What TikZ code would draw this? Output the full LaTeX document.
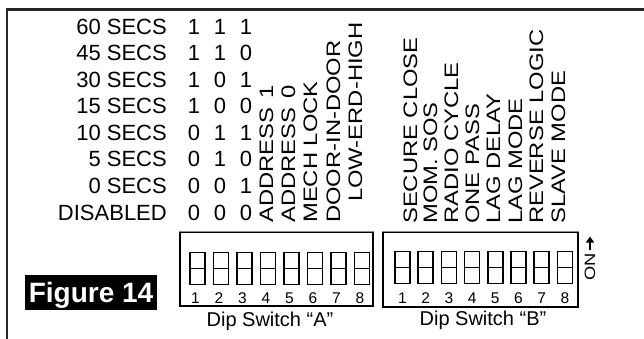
\documentclass[tikz,border=0pt]{standalone}
\usepackage{fontspec}
\setmainfont{Liberation Sans}
\newfontfamily\widefont[FakeStretch=1.22]{Liberation Sans}
\usetikzlibrary{arrows.meta,positioning}

\begin{document}
\begin{tikzpicture}[x=1pt,y=-1pt]
	\tikzset{every node/.style={inner sep=0pt}}
	\tikzset{rowlab/.style={anchor=base east,font=\fontsize{22}{22}\selectfont}}
	\tikzset{bit/.style={anchor=base,font=\fontsize{22}{22}\selectfont}}
	\tikzset{vlab/.style={rotate=90,anchor=base west,font=\widefont\fontsize{19.5}{19.5}\selectfont}}
	\tikzset{dipbox/.style={draw,line width=1.5pt,minimum width=193pt,minimum height=74pt}}
	\tikzset{toggle/.style={draw,line width=1.7pt,minimum width=15pt,minimum height=32pt}}
	\tikzset{swnum/.style={anchor=base,font=\fontsize{15.5}{15.5}\selectfont}}
	\tikzset{diplab/.style={anchor=base,font=\fontsize{20}{20}\selectfont}}
	\useasboundingbox (0,0) rectangle (644,339);
	% frame
	\draw[line width=2.3pt,black!85] (7.2,339) -- (7.2,9.5) -- (644,9.5);
	% close timer table
	\foreach \lab/\a/\b/\c [count=\i from 0] in {60 SECS/1/1/1,45 SECS/1/1/0,30 SECS/1/0/1,15 SECS/1/0/0,10 SECS/0/1/1,5 SECS/0/1/0,0 SECS/0/0/1,DISABLED/0/0/0}{
		\node[rowlab] (row\i) at (167,34.5+26.5*\i) {\lab};
		\node[bit] (bitA\i) at (194,34.5+26.5*\i) {\a};
		\node[bit] (bitB\i) at (220,34.5+26.5*\i) {\b};
		\node[bit] (bitC\i) at (246,34.5+26.5*\i) {\c};
	}
	% switch functions
	\foreach \lab/\x/\y [count=\i] in {ADDRESS\hspace{0.47em}1/273/223,ADDRESS\hspace{0.47em}0/295/223,MECH LOCK/317/223,DOOR-IN-DOOR/340/223,LOW-ERD-HIGH/362/202}
		\node[vlab] (funA\i) at (\x,\y) {\lab};
	\foreach \lab/\x [count=\i] in {SECURE CLOSE/417,MOM. SOS/437,RADIO CYCLE/458,ONE PASS/479,LAG DELAY/500,LAG MODE/522,REVERSE LOGIC/543,SLAVE MODE/565}
		\node[vlab] (funB\i) at (\x,224) {\lab};
	% dip switch A
	\node[dipbox] (dipA) at (276.5,269) {};
	\draw[line width=1.5pt,black!45] (dipA.north west) -- (dipA.north east);
	\foreach \i in {1,...,8}{
		\node[toggle] (swA\i) at (174+23.5*\i,268.5) {};
		\draw[line width=1.7pt] (swA\i.west) -- (swA\i.east);
		\node[swnum] (numA\i) at (172+23.5*\i,303) {\i};
	}
	\node[diplab] (labA) at (270,326) {Dip Switch “A”};
	% dip switch B
	\node[dipbox,minimum width=195pt,minimum height=75pt] (dipB) at (480.5,269.5) {};
	\draw[line width=1.5pt,black!45] (dipB.north west) -- (dipB.north east);
	\foreach \i in {1,...,8}{
		\node[toggle] (swB\i) at (379.3+23.2*\i,267.5) {};
		\draw[line width=1.7pt] (swB\i.west) -- (swB\i.east);
		\node[swnum] (numB\i) at (379.3+23.2*\i,303) {\i};
	}
	\node[diplab] (labB) at (483,325) {Dip Switch “B”};
	% on arrow
	\coordinate (onfoot) at (590,250);
	\coordinate (onhead) at (590,236.5);
	\draw[line width=2.2pt,-{Triangle[width=8pt,length=6pt]}] (onfoot) -- (onhead);
	\node[rotate=90,anchor=east,font=\widefont\fontsize{15}{15}\selectfont] (on) at (590,253) {ON};
	% figure tag
	\node[fill=black,text=white,font=\bfseries\fontsize{28}{28}\selectfont,minimum width=132pt,minimum height=35pt,text height=20pt,text depth=0pt] (tag) at (91,292.5) {Figure 14};
\end{tikzpicture}
\end{document}
